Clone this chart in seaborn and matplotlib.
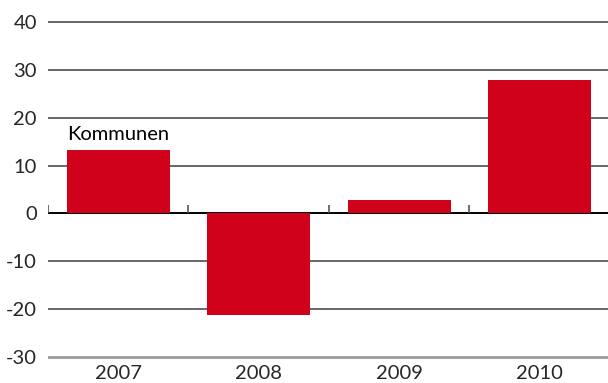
import matplotlib
matplotlib.use("Agg")
import matplotlib.pyplot as plt
import seaborn as sns
import pandas as pd

years = ["2007", "2008", "2009", "2010"]
values = [13.3, -21.2, 2.8, 27.9]
series_label = "Kommunen"
y_ticks = [-30, -20, -10, 0, 10, 20, 30, 40]

red = "#D0011B"
bar_width = 0.73

sns.set_theme(style="white")
plt.rcParams["font.family"] = ["Lato", "DejaVu Sans"]

df = pd.DataFrame({"year": years, "value": values})

fig = plt.figure(figsize=(6.08, 3.83), dpi=100)
ax = fig.add_axes([48 / 608, 0.0616, 562 / 608, 0.887])

# horizontal grid behind the bars
for t in y_ticks[1:]:
    if t == 0:
        continue
    ax.axhline(t, color="#5a5a5a", lw=1.3, zorder=0)
ax.axhline(-30, color="#9a9a9a", lw=2.0, zorder=0)

sns.barplot(data=df, x="year", y="value", color=red, saturation=1,
            width=bar_width, linewidth=0, edgecolor=red, ax=ax, zorder=2)

# zero line with category separators
ax.axhline(0, color="black", lw=1.4, zorder=1)
ax.vlines([-0.5, 0.5, 1.5, 2.5], 0, 1.7, color="#555555", lw=1.2, zorder=1)

ax.text(-bar_width / 2, values[0] + 1.4, series_label, ha="left", va="bottom",
        fontsize=14.5, color="black")

ax.set_xlim(-0.5, 3.5)
ax.set_ylim(-30.5, 40.5)
ax.set_yticks(y_ticks)
ax.set_yticklabels([str(t) for t in y_ticks], fontsize=14.5)
ax.set_xticklabels(years, fontsize=14.5)
ax.set_xlabel("")
ax.set_ylabel("")
ax.tick_params(axis="x", length=0, pad=4)
ax.tick_params(axis="y", length=0, pad=8)
for s in ax.spines.values():
    s.set_visible(False)

fig.savefig("out.png", dpi=100)
